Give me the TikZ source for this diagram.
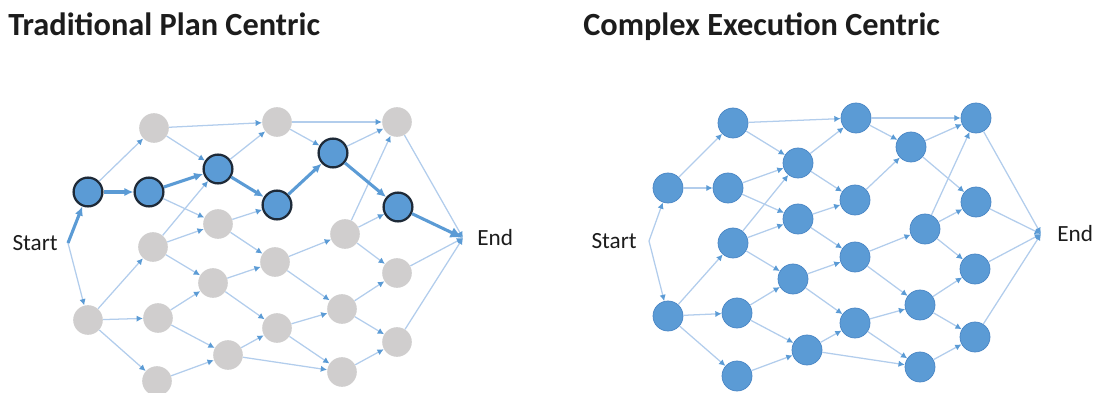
\documentclass[tikz,border=0pt]{standalone}
\usepackage{fontspec}
\setmainfont{Carlito}
\usetikzlibrary{arrows.meta,positioning}
\definecolor{linkblue}{HTML}{B2CDEC}
\definecolor{tipblue}{HTML}{5B9BD5}
\definecolor{greyfill}{HTML}{D0CECE}
\definecolor{ringdark}{HTML}{1E2A38}
\definecolor{busyedge}{HTML}{4A86C5}
\definecolor{inkgrey}{HTML}{1C1C1C}

\begin{document}
\begin{tikzpicture}[x=0.025cm, y=-0.025cm,
  idle/.style={circle, fill=greyfill, minimum size=7.4mm, inner sep=0pt},
  taken/.style={circle, fill=tipblue, draw=ringdark, line width=1.6pt, minimum size=7.2mm, inner sep=0pt},
  busy/.style={circle, fill=tipblue, draw=busyedge, line width=0.5pt, minimum size=7.5mm, inner sep=0pt},
  tag/.style={font=\fontsize{16.5}{18}\selectfont, text=inkgrey, inner sep=0pt},
  title/.style={font=\fontsize{23}{26}\selectfont\bfseries, text=inkgrey, anchor=base west, inner sep=0pt},
  hot/.style={line width=2.2pt, draw=tipblue, -{Latex[length=6.5pt,width=6pt]}},
  every edge/.style={draw=linkblue, line width=0.9pt, -{Latex[length=4.5pt,width=4.5pt,color=tipblue]}}]
\useasboundingbox (0,0) rectangle (1097,393);

% titles
\node[title] (plantitle) at (8,36) {Traditional Plan Centric};
\node[title] (exectitle) at (583,36) {Complex Execution Centric};

% plan centric graph
\coordinate (Ls) at (68,243);
\coordinate (Lt) at (463,238);
\node[tag, left=0.25cm of Ls] (Lstart) {Start};
\node[tag, right=0.35cm of Lt] (Lend) {End};
\node[taken] (La1) at (88,192) {};
\node[idle] (La2) at (88,320) {};
\node[idle] (Lb1) at (154,128) {};
\node[taken] (Lb2) at (149,192) {};
\node[idle] (Lb3) at (153,247) {};
\node[idle] (Lb4) at (158,318) {};
\node[idle] (Lb5) at (157,381) {};
\node[taken] (Lc1) at (218,169) {};
\node[idle] (Lc2) at (218,224) {};
\node[idle] (Lc3) at (213,283) {};
\node[idle] (Lc4) at (228,355) {};
\node[idle] (Ld1) at (277,122) {};
\node[taken] (Ld2) at (277,205) {};
\node[idle] (Ld3) at (275,262) {};
\node[idle] (Ld4) at (277,328) {};
\node[taken] (Le1) at (333,153) {};
\node[idle] (Le2) at (345,234) {};
\node[idle] (Le3) at (342,309) {};
\node[idle] (Le4) at (342,372) {};
\node[idle] (Lf1) at (397,122) {};
\node[taken] (Lf2) at (398,207) {};
\node[idle] (Lf3) at (397,273) {};
\node[idle] (Lf4) at (397,342) {};

\path (Ls) edge (La2);
\path (La1) edge (Lb1);
\path (La2) edge (Lb3) edge (Lb4) edge (Lb5);
\path (Lb1) edge (Lc1) edge (Ld1);
\path (Lb2) edge (Lc2);
\path (Lb3) edge (Lc1) edge (Lc2) edge (Lc3);
\path (Lb4) edge (Lc3) edge (Lc4);
\path (Lb5) edge (Lc4);
\path (Lc1) edge (Ld1);
\path (Lc2) edge (Ld2) edge (Ld3);
\path (Lc3) edge (Ld3) edge (Ld4);
\path (Lc4) edge (Ld4) edge (Le4);
\path (Ld1) edge (Le1) edge (Lf1);
\path (Ld3) edge (Le2) edge (Le3);
\path (Ld4) edge (Le3) edge (Le4);
\path (Le1) edge (Lf1);
\path (Le2) edge (Lf1) edge (Lf2) edge (Lf3);
\path (Le3) edge (Lf3) edge (Lf4);
\path (Le4) edge (Lf4);
\path (Lf1) edge (Lt);
\path (Lf3) edge (Lt);
\path (Lf4) edge (Lt);
% the one plan that was followed
\path (Ls) edge[hot] (La1) (La1) edge[hot] (Lb2) (Lb2) edge[hot] (Lc1)
      (Lc1) edge[hot] (Ld2) (Ld2) edge[hot] (Le1) (Le1) edge[hot] (Lf2)
      (Lf2) edge[hot, -{Latex[length=9pt,width=8pt]}] (Lt);

% execution centric graph
\coordinate (Rs) at (649,241);
\coordinate (Rt) at (1041,234);
\node[tag, left=0.3cm of Rs] (Rstart) {Start};
\node[tag, right=0.4cm of Rt] (Rend) {End};
\node[busy] (Ra1) at (668,188) {};
\node[busy] (Ra2) at (668,316) {};
\node[busy] (Rb1) at (733,123) {};
\node[busy] (Rb2) at (728,188) {};
\node[busy] (Rb3) at (733,243) {};
\node[busy] (Rb4) at (737,313) {};
\node[busy] (Rb5) at (737,376) {};
\node[busy] (Rc1) at (798,163) {};
\node[busy] (Rc2) at (798,219) {};
\node[busy] (Rc3) at (793,279) {};
\node[busy] (Rc4) at (807,350) {};
\node[busy] (Rd1) at (856,118) {};
\node[busy] (Rd2) at (855,200) {};
\node[busy] (Rd3) at (855,257) {};
\node[busy] (Rd4) at (855,323) {};
\node[busy] (Re1) at (911,147) {};
\node[busy] (Re2) at (925,229) {};
\node[busy] (Re3) at (920,305) {};
\node[busy] (Re4) at (920,367) {};
\node[busy] (Rf1) at (976,118) {};
\node[busy] (Rf2) at (976,202) {};
\node[busy] (Rf3) at (975,269) {};
\node[busy] (Rf4) at (975,337) {};

\path (Rs) edge (Ra1) edge (Ra2);
\path (Ra1) edge (Rb1) edge (Rb2);
\path (Ra2) edge (Rb3) edge (Rb4) edge (Rb5);
\path (Rb1) edge (Rc1) edge (Rd1);
\path (Rb2) edge (Rc1) edge (Rc2);
\path (Rb3) edge (Rc1) edge (Rc2) edge (Rc3);
\path (Rb4) edge (Rc3) edge (Rc4);
\path (Rb5) edge (Rc4);
\path (Rc1) edge (Rd1) edge (Rd2);
\path (Rc2) edge (Rd2) edge (Rd3);
\path (Rc3) edge (Rd3) edge (Rd4);
\path (Rc4) edge (Rd4) edge (Re4);
\path (Rd1) edge (Re1) edge (Rf1);
\path (Rd2) edge (Re1);
\path (Rd3) edge (Re2) edge (Re3);
\path (Rd4) edge (Re3) edge (Re4);
\path (Re1) edge (Rf1) edge (Rf2);
\path (Re2) edge (Rf1) edge (Rf2) edge (Rf3);
\path (Re3) edge (Rf3) edge (Rf4);
\path (Re4) edge (Rf4);
\path (Rf1) edge (Rt);
\path (Rf2) edge (Rt);
\path (Rf3) edge (Rt);
\path (Rf4) edge (Rt);
\end{tikzpicture}
\end{document}
